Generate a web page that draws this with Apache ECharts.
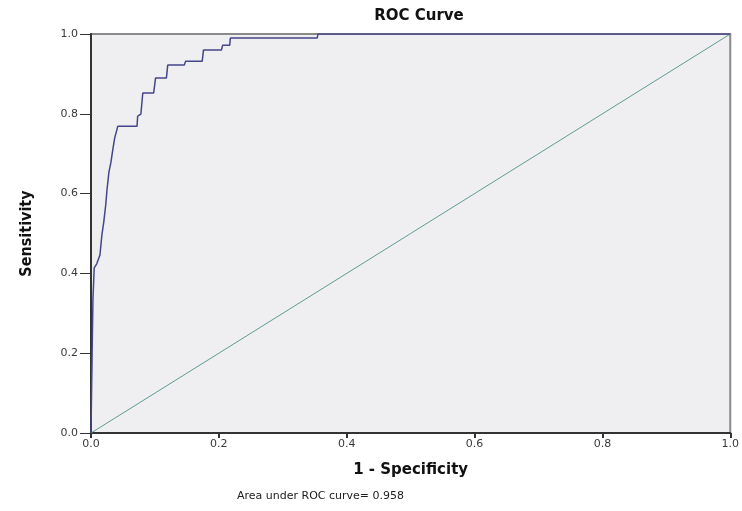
<!DOCTYPE html>
<html><head><meta charset="utf-8">
<script src="https://cdn.jsdelivr.net/npm/echarts@6/dist/echarts.min.js"></script>
<style>html,body{margin:0;padding:0;background:#fff}#c{width:742px;height:511px}</style>
</head><body><div id="c"></div>
<script>
const fpr = [0,0.0016,0.003,0.005,0.009,0.014,0.017,0.020,0.023,0.025,0.028,0.031,0.034,0.037,0.042,0.072,0.073,0.078,0.081,0.098,0.101,0.118,0.120,0.146,0.148,0.174,0.176,0.204,0.206,0.217,0.218,0.354,0.355,1];
const tpr = [0,0.183,0.333,0.414,0.424,0.446,0.496,0.529,0.571,0.609,0.654,0.677,0.709,0.739,0.769,0.769,0.794,0.799,0.852,0.852,0.890,0.890,0.922,0.922,0.932,0.932,0.960,0.960,0.972,0.972,0.990,0.990,1.0,1.0];
const diagX = [0,1];
const diagY = [0,1];
const ticks = [0,0.2,0.4,0.6,0.8,1.0];
const titleText = 'ROC Curve';
const xName = '1 - Specificity';
const yName = 'Sensitivity';
const aucText = 'Area under ROC curve= 0.958';

const chart = echarts.init(document.getElementById('c'));
const labelStyle = {color:'#3a3a3a', fontSize:11, fontFamily:'DejaVu Sans, Arial, sans-serif', formatter: v => v.toFixed(1)};
chart.setOption({
  backgroundColor:'#fff',
  animation:false,
  title:[
    {text:titleText, left:414, top:4, textAlign:'center', textStyle:{fontSize:15, fontWeight:'bold', color:'#111', fontFamily:'DejaVu Sans, Arial, sans-serif'}},
    {text:aucText, left:232, top:486, textStyle:{fontSize:11, fontWeight:'normal', color:'#222', fontFamily:'DejaVu Sans, Arial, sans-serif'}}
  ],
  grid:{left:91, right:9, top:34, bottom:78, show:true, backgroundColor:'#efeff1', borderColor:'#8a8a8a', borderWidth:2},
  xAxis:{type:'value', min:0, max:1, interval:0.2,
    name:xName, nameLocation:'middle', nameGap:30,
    nameTextStyle:{fontSize:15, fontWeight:'bold', color:'#111', fontFamily:'DejaVu Sans, Arial, sans-serif'},
    axisLine:{show:true, lineStyle:{color:'#333', width:2}},
    axisTick:{show:true, length:5, lineStyle:{color:'#333', width:2}},
    axisLabel:Object.assign({margin:6}, labelStyle),
    splitLine:{show:false}},
  yAxis:{type:'value', min:0, max:1, interval:0.2,
    name:yName, nameLocation:'middle', nameGap:56, nameRotate:90,
    nameTextStyle:{fontSize:16, fontWeight:'bold', color:'#111', fontFamily:'DejaVu Sans Condensed, Liberation Sans Narrow, Arial, sans-serif'},
    axisLine:{show:true, lineStyle:{color:'#333', width:2}},
    axisTick:{show:true, length:11, lineStyle:{color:'#333', width:1}},
    axisLabel:Object.assign({margin:13}, labelStyle),
    splitLine:{show:false}},
  series:[
    {type:'line', data:diagX.map((x,i)=>[x,diagY[i]]), symbol:'none', lineStyle:{color:'#5f9c8c', width:1}, z:2},
    {type:'line', data:fpr.map((x,i)=>[x,tpr[i]]), symbol:'none', lineStyle:{color:'#45458a', width:1.5}, z:3}
  ]
});
</script></body></html>
